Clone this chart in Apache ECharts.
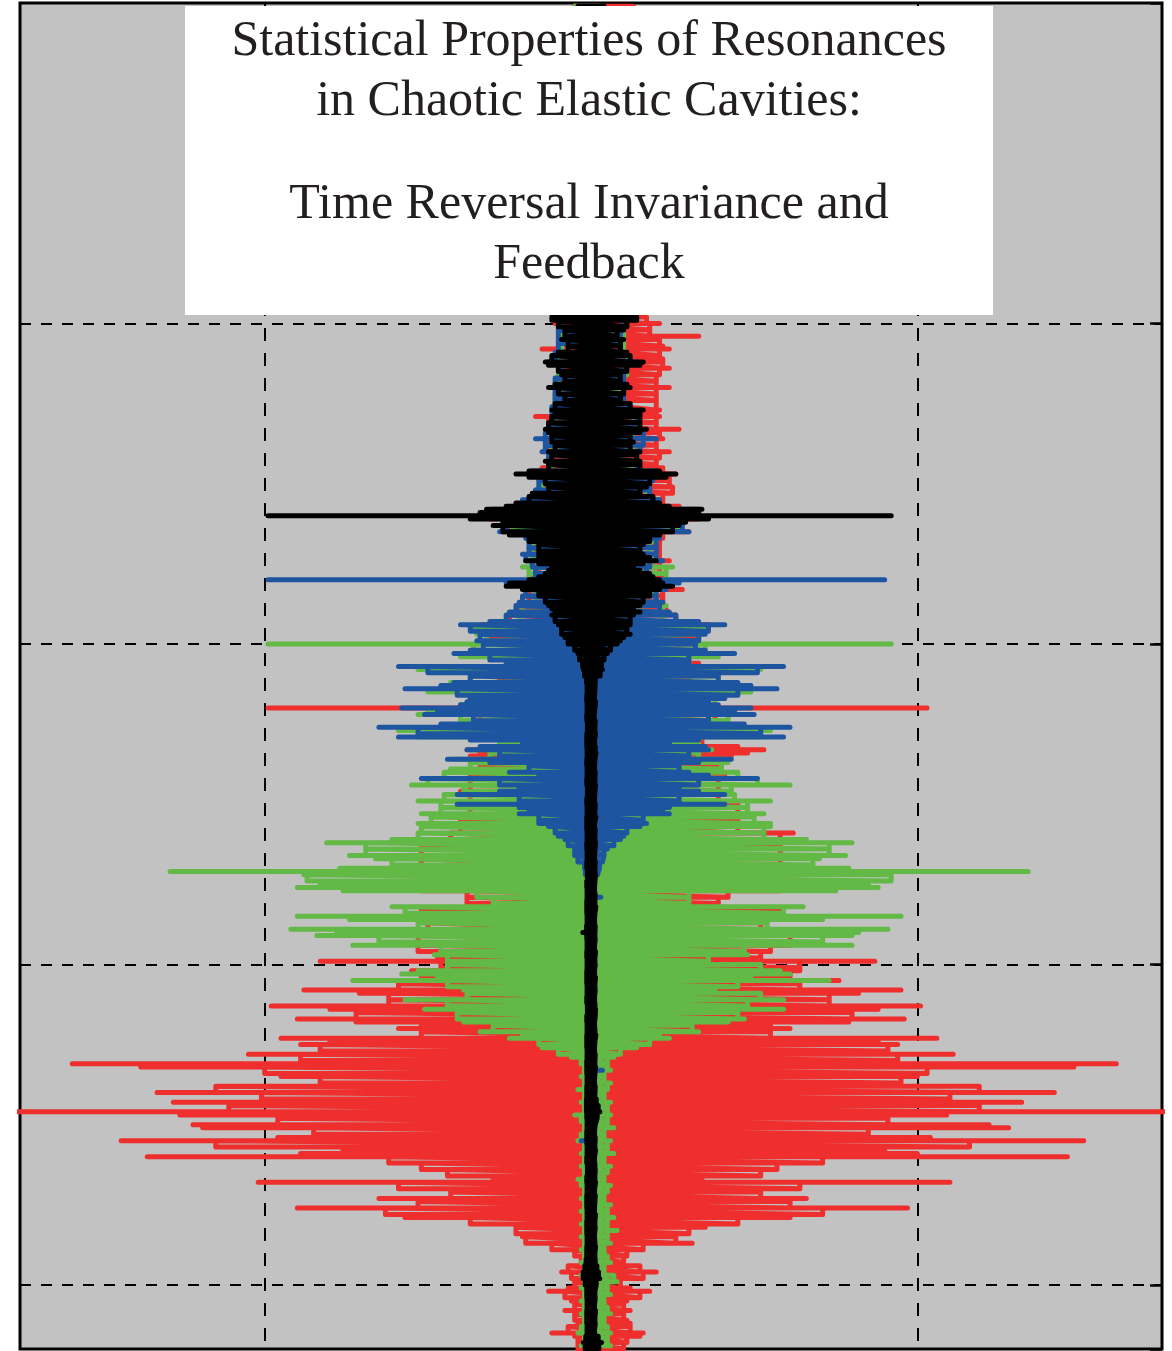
<!DOCTYPE html>
<html>
<head>
<meta charset="utf-8">
<script src="https://cdn.jsdelivr.net/npm/echarts/dist/echarts.min.js"></script>
<style>
html,body{margin:0;padding:0;background:#fff;}
#chart{width:1172px;height:1351px;}
</style>
</head>
<body>
<div id="chart"></div>
<script>
// Each row: [time, left amplitude, right amplitude]; amplitudes on a scale where the grid lines sit at -100 and +100
const titleLines = ['Statistical Properties of Resonances', 'in Chaotic Elastic Cavities:', 'Time Reversal Invariance and', 'Feedback'];
const xGridValues = [-100, 0, 100];

const redRows = [
[1,-5,13],[15,-10,15],[35,-12,14],[55,-11,16],[75,-10,13],[92,-12,15],
[98,-10,17],[100,-11,21],[102,-8,18],[104,-7,33],[105,-8,21],[107,-9,22],[108,-15,24],[110,-8,21],[111,-10,22],[112,-10,22],[114,-8,24],[116,-10,21],[118,-10,20],[120,-11,24],[122,-10,20],[124,-10,20],[127,-11,21],[128,-10,20],[129,-17,21],[131,-13,20],[133,-13,27],[134,-12,21],[136,-14,22],[138,-13,20],[140,-13,24],[142,-12,21],[144,-13,20],[145,-15,22],[147,-19,26],[149,-14,24],[151,-14,25],[153,-14,25],[155,-16,22],[157,-22,27],[159,-28,33],[161,-31,33],[163,-25,27],[165,-27,30],[167,-19,22],[169,-17,21],[170,-19,21],[172,-17,21],[174,-17,24],[176,-16,21],[178,-16,22],[179,-19,22],[181,-25,24],[183,-19,28],[185,-19,22],[187,-19,22],[189,-22,23],[191,-25,26],[194,-34,36],[196,-34,35],[198,-32,33],[200,-31,33],
[202,-22,27],[206,-22,33],[208,-30,30],[211,-28,30],[214,-35,35],[217,-34,33],[220,-99,103],[221,-34,39],[224,-38,38],[226,-40,40],[231,-25,34],[232,-28,45],[233,-38,53],[234,-34,48],[235,-37,43],[238,-34,39],[241,-37,41],[246,-40,39],[250,-37,45],[255,-40,45],[259,-43,62],[263,-52,58],[267,-52,58],[272,-59,64],[277,-52,58],[279,-38,42],[281,-38,39],[283,-52,58],[286,-52,65],[287,-50,52],[291,-59,64],[294,-53,61],[296,-53,55],[298,-47,52],
[299,-83,87],[301,-46,64],[302,-55,64],[304,-52,61],[305,-71,76],[306,-59,64],[308,-88,95],[309,-71,82],[311,-62,73],[313,-98,101],[314,-80,88],[315,-72,80],[317,-90,96],[318,-72,79],[319,-52,55],[320,-59,61],[321,-52,55],[323,-95,106],[324,-80,88],[325,-89,94],[327,-83,91],[328,-105,111],[330,-89,94],[331,-159,161],[332,-138,148],[334,-100,103],[335,-95,100],[337,-83,95],[338,-115,119],[340,-133,142],[342,-101,110],[343,-128,132],[344,-111,119],[346,-178,178],[347,-126,109],[348,-96,91],[350,-122,122],[351,-119,128],[353,-85,85],[354,-96,104],[355,-144,151],[357,-115,116],[358,-76,90],[359,-89,100],[360,-136,146],[362,-62,71],[364,-52,57],[366,-44,52],[367,-30,34],[368,-102,110],[370,-59,64],[371,-43,52],[373,-65,66],[374,-53,61],[376,-90,97],[378,-63,71],[379,-57,61],[381,-37,45],[382,-23,35],[384,-23,30],[385,-21,26],[387,-20,31],[389,-12,16],[391,-5,11],[393,-3,10],[394,-7,15],[396,-9,20],[398,-6,16],[399,-5,9],[401,-7,12],[402,-13,18],[404,-8,15],[405,-6,11],[406,-5,10],[408,-8,12],[409,-5,10],[411,-5,11],[412,-4,12],[413,-7,12],[415,-12,16],[416,-5,15],[418,-4,11],[420,-4,10]
];

const greenRows = [
[1,-5,3],[15,-10,11],[35,-11,12],[55,-9,10],[75,-12,11],[92,-10,12],[98,-11,13],[104,-9,10],[110,-11,12],[116,-10,11],[122,-11,10],[128,-11,13],[134,-12,13],[140,-12,14],[146,-16,19],[152,-15,17],[156,-20,21],[159,-30,32],[161,-28,28],[164,-24,27],[168,-18,20],[172,-18,18],[176,-21,25],[178,-19,23],[181,-22,23],[184,-17,20],[188,-21,23],[190,-22,22],[193,-30,32],[195,-36,35],[197,-35,34],[199,-32,33],[200,-99,92],[202,-36,35],[204,-40,39],[206,-22,30],[208,-53,52],[210,-37,39],[212,-43,44],[215,-50,49],[217,-37,39],[219,-40,38],[221,-50,44],[222,-53,45],[224,-40,42],[226,-45,44],[227,-59,55],[229,-53,52],[231,-28,33],[233,-37,37],[234,-31,33],[236,-42,42],[237,-37,42],[239,-43,40],[240,-45,45],[242,-50,51],[244,-55,61],[246,-39,43],[247,-45,44],[249,-53,55],[251,-46,48],[253,-52,53],[254,-49,50],[256,-53,55],[257,-52,55],[259,-53,53],[261,-61,66],[262,-81,80],[264,-69,73],[266,-74,78],[267,-66,70],[269,-61,68],[270,-77,79],[271,-129,134],[272,-88,92],[274,-87,92],[275,-83,85],[276,-90,88],[277,-76,75],[279,-35,30],[281,-30,30],[282,-61,65],[284,-57,59],[285,-90,95],[286,-74,71],[287,-53,54],[289,-92,91],[290,-78,82],[291,-84,80],[293,-65,71],[294,-73,80],[296,-46,47],[297,-48,48],[299,-44,36],[300,-44,52],[302,-53,58],[303,-58,61],[304,-47,49],[305,-73,73],[307,-44,45],[308,-39,38],[309,-38,52],[311,-57,59],[313,-44,48],[314,-51,59],[315,-41,45],[317,-41,47],[318,-39,42],[319,-30,31],[321,-34,33],[322,-21,21],[323,-25,24],[325,-16,18],[326,-15,14],[328,-10,9],[329,-6,7],
[331,-3,5],[333,-2,6],[335,-3,4],[337,-2,6],[339,-4,5],[341,-2,4],[343,-3,6],[345,-2,5],[347,-5,6],[349,-3,5],[351,-2,7],[353,-3,4],[355,-4,6],[357,-2,5],[359,-3,7],[361,-2,4],[363,-3,6],[365,-2,5],[367,-4,4],[369,-3,6],[371,-2,5],[373,-3,4],[375,-2,6],[377,-3,5],[379,-2,7],[381,-3,5],[383,-2,8],[385,-3,5],[387,-2,6],[389,-3,4],[391,-2,5],[393,-3,6],[395,-2,4],[397,-3,7],[399,-2,8],[401,-3,5],[403,-2,6],[405,-3,4],[407,-2,5],[409,-3,6],[411,-2,4],[413,-3,5],[415,-4,6],[417,-2,5],[419,-3,6]
];

const blueRows = [
[1,-3,3],[15,-9,10],[35,-10,9],[55,-8,10],[75,-10,9],[92,-9,11],
[98,-11,12],[102,-10,10],[106,-10,9],[109,-11,10],[112,-13,14],[115,-9,10],[117,-11,10],[120,-12,11],[123,-11,10],[126,-12,12],[129,-12,14],[132,-13,14],[134,-14,16],[136,-17,20],[138,-14,16],[140,-15,15],[143,-13,14],[146,-18,20],[149,-16,19],[152,-17,18],[155,-21,21],[158,-30,33],[160,-33,32],[162,-26,28],[165,-28,30],[167,-20,21],[170,-19,20],[172,-21,20],[174,-20,22],[176,-18,18],[178,-17,17],[180,-99,90],[181,-26,27],[183,-20,23],[185,-21,20],[187,-22,22],[188,-23,21],[190,-25,24],[191,-26,26],[193,-31,33],[194,-40,41],[196,-37,36],[197,-34,35],[199,-35,33],[200,-33,32],[202,-37,35],[203,-42,44],[205,-31,30],[206,-26,30],[207,-59,59],[209,-50,51],[210,-37,39],[212,-42,45],[213,-46,49],[214,-57,57],[216,-41,45],[217,-37,41],[218,-38,36],[219,-40,39],[220,-58,49],[221,-47,44],[222,-51,50],[224,-36,36],[225,-46,47],[226,-65,61],[228,-53,52],[229,-59,59],[230,-37,33],[231,-21,24],[232,-34,35],[233,-38,36],[235,-28,30],[236,-44,43],[237,-31,33],[238,-19,27],[240,-25,30],[241,-16,36],[242,-52,51],[244,-28,33],[245,-22,27],[246,-28,33],[247,-41,41],[249,-22,27],[250,-41,41],[251,-22,24],[252,-19,22],[253,-22,24],[255,-16,16],[256,-16,17],[257,-13,15],[259,-11,11],[260,-10,10],[261,-8,9],[263,-7,7],[264,-5,5],[266,-5,4],[268,-4,3.5],[270,-2,2.6],[272,-1.7,2],
[278,-1,1],[279,-1,3],[286,-1,1],[294,-1,1],[302,-1,1],[310,-1,1],[318,-1,1],[326,-1,1],[333,-1.5,3.5],[340,-1,1],[348,-1,1],[355,-3,1],[362,-1,1],[370,-1,1],[378,-1,1],[386,-1,1],[394,-1,1],[402,-1,1],[410,-1,1],[420,-1,1]
];

const blackRows = [
[1,-4,4],[12,-11,12],[30,-9,13],[50,-12,11],[70,-10,12],[88,-11,13],
[98,-12,14],[99,-12,14],[101,-10,11],[102,-8,10],[104,-8,8],[105,-9,10],[107,-7,9],[109,-10,11],[110,-12,12],[112,-14,16],[113,-13,15],[115,-10,11],[116,-9,9],[118,-8,9],[119,-11,11],[120,-13,12],[122,-10,10],[124,-8,9],[125,-11,12],[127,-12,16],[128,-11,15],[129,-12,15],[131,-13,15],[133,-14,17],[134,-13,15],[135,-12,12],[137,-12,13],[138,-11,12],[140,-13,15],[141,-12,14],[143,-14,15],[144,-13,15],[146,-19,21],[147,-23,26],[148,-19,23],[150,-14,18],[151,-13,17],[153,-18,15],[154,-19,19],[156,-23,21],[157,-26,24],[158,-32,34],[159,-34,33],[160,-99,92],[161,-37,36],[162,-27,29],[163,-30,27],[165,-27,25],[166,-25,21],[167,-19,18],[168,-19,18],[169,-16,16],[171,-16,15],[172,-16,16],[173,-16,18],[174,-20,20],[175,-16,16],[176,-12,13],[177,-13,15],[178,-14,18],[179,-16,19],[180,-19,21],[181,-25,22],[182,-26,25],[183,-21,21],[184,-16,18],[185,-16,18],[187,-14,16],[188,-13,15],[189,-12,13],[190,-11,15],[191,-12,13],[193,-11,12],[194,-10,12],[195,-9,11],[197,-9,12],[198,-8,10],[199,-7,9],[200,-7,8],[202,-5,6],[203,-4,5],[205,-3.5,4],[207,-2.6,3.2],[208,-2.3,3.5],[210,-2,2.8],
[212,-1.4,1.3],[214,-1.2,1.2],[216,-1.5,1.1],[218,-1.3,1.4],[220,-1.2,1.2],[222,-1.6,1.0],[224,-1.3,1.3],[226,-1.1,1.2],[228,-1.4,1.4],[230,-1.3,1.1],[232,-1.5,1.3],[234,-1.2,1.5],[236,-1.3,1.2],[238,-1.6,1.1],[240,-1.2,1.3],[242,-1.4,1.2],[244,-1.3,1.4],[246,-1.1,1.2],[248,-1.5,1.1],[250,-1.3,1.3],[252,-1.2,1.2],[254,-1.4,1.5],[256,-1.3,1.1],[258,-1.5,1.3],[260,-1.2,1.2],[262,-1.3,1.4],[264,-1.6,1.2],[266,-1.2,1.1],[268,-1.4,1.3],[270,-1.3,1.2],[272,-1.1,1.4],[274,-1.5,1.2],[276,-1.3,1.1],[278,-1.2,1.3],[280,-1.4,1.2],[282,-1.3,1.5],[284,-1.6,1.2],[286,-1.2,1.1],[288,-1.4,1.3],[290,-2.5,1.2],[292,-1.3,1.3],[294,-1.2,1.1],[296,-1.5,1.4],[298,-1.3,1.2],[300,-1.2,1.3],[302,-1.4,1.1],[304,-1.3,1.4],[306,-1.6,1.2],[308,-1.2,1.3],[310,-1.4,1.1],[312,-1.3,1.2],[314,-1.1,1.4],[316,-1.5,1.3],[318,-1.3,1.1],[320,-1.2,1.2],[322,-1.4,1.5],[324,-1.3,1.2],[326,-1.5,1.1],[328,-1.2,1.3],[330,-1.4,1.2],[332,-1.3,1.4],[334,-1.6,1.2],[336,-1.2,1.1],[338,-1.4,1.3],[340,-1.3,1.2],[342,-1.5,1.6],[344,-1.4,2.2],[346,-1.6,2.7],[348,-1.3,1.9],[350,-1.2,1.3],[352,-1.4,1.1],[354,-1.3,1.3],[356,-1.5,1.2],[358,-1.2,1.4],[360,-1.4,1.1],[362,-1.3,1.2],[364,-1.1,1.3],[366,-1.5,1.2],[368,-1.3,1.4],[370,-1.2,1.1],[372,-1.4,1.3],[374,-1.3,1.2],[376,-1.6,1.1],[378,-1.2,1.4],[380,-1.4,1.2],[382,-1.3,1.3],[384,-1.5,1.1],[386,-1.2,1.2],[388,-1.4,1.4],[390,-1.3,1.2],[392,-1.5,1.3],[394,-1.9,1.8],[396,-2.4,2.3],[398,-2.6,2.7],[400,-1.8,1.6],[402,-1.3,1.2],[404,-1.4,1.3],[406,-1.2,1.1],[408,-1.5,1.4],[410,-1.3,1.2],[412,-1.4,1.3],[414,-1.2,1.1],[416,-1.6,2.2],[418,-2.3,3.2],[420,-1.8,2.4]
];

// Path through the rows: each row is a horizontal swing from its left to its right extent.
// Consecutive rows are joined only inside the extent both rows share (right edge, a crossing, left edge),
// so the body is solid and no slanted strokes stick out beyond the data.
function toTrace(rows) {
  const pts = [];
  for (let i = 0; i < rows.length; i++) {
    const r = rows[i];
    pts.push([r[1], r[0]]);
    pts.push([r[2], r[0]]);
    if (i + 1 < rows.length) {
      const n = rows[i + 1];
      const inR = Math.min(r[2], n[2]);
      const inL = Math.max(r[1], n[1]);
      pts.push([inR, r[0]]);
      pts.push([inR, n[0]]);
      pts.push([inL, r[0]]);
      pts.push([inL, n[0]]);
    }
  }
  return pts;
}

function traceSeries(name, rows, color, extra) {
  return Object.assign({
    name: name,
    type: 'line',
    data: toTrace(rows),
    showSymbol: false,
    symbol: 'none',
    silent: true,
    clip: true,
    animation: false,
    lineStyle: { color: color, width: 5, cap: 'round', join: 'round' },
    z: 2
  }, extra || {});
}

const chart = echarts.init(document.getElementById('chart'), null, { renderer: 'canvas' });

const yAxisBase = {
  type: 'value', inverse: true, min: 0, max: 420, interval: 100,
  axisLine: { show: false }, axisLabel: { show: false },
  axisTick: { show: true, inside: true, length: 12, lineStyle: { color: '#000', width: 2.5 } }
};

const titleFont = '50px "Liberation Serif", "Times New Roman", serif';
const titleY = [42, 102, 205, 265];

chart.setOption({
  backgroundColor: '#ffffff',
  animation: false,
  grid: {
    left: 20, top: 3, width: 1142, height: 1346,
    show: true, backgroundColor: '#c1c2c1', borderColor: '#000', borderWidth: 3
  },
  xAxis: {
    type: 'value', min: -175, max: 175,
    axisLine: { show: false }, axisTick: { show: false }, axisLabel: { show: false }, splitLine: { show: false }
  },
  yAxis: [
    Object.assign({}, yAxisBase, { position: 'left', splitLine: { show: true, lineStyle: { color: '#000', width: 2, type: [11, 10] } } }),
    Object.assign({}, yAxisBase, { position: 'right', splitLine: { show: false } })
  ],
  series: [
    traceSeries('red', redRows, '#ee2f2d', {
      markLine: {
        silent: true, symbol: 'none', z: 1, animation: false,
        label: { show: false },
        lineStyle: { color: '#000', width: 2, type: [13, 12] },
        data: xGridValues.map(function (v) { return { xAxis: v }; })
      }
    }),
    traceSeries('green', greenRows, '#62b946'),
    traceSeries('blue', blueRows, '#1e55a1'),
    traceSeries('black', blackRows, '#000000')
  ],
  graphic: [
    { type: 'rect', z: 100, silent: true, shape: { x: 185, y: 6, width: 808, height: 309 }, style: { fill: '#ffffff' } }
  ].concat(titleLines.map(function (t, i) {
    return {
      type: 'text', z: 101, silent: true, x: 589, y: titleY[i],
      style: { text: t, font: titleFont, fill: '#231f20', align: 'center', verticalAlign: 'middle' }
    };
  }))
});
</script>
</body>
</html>
